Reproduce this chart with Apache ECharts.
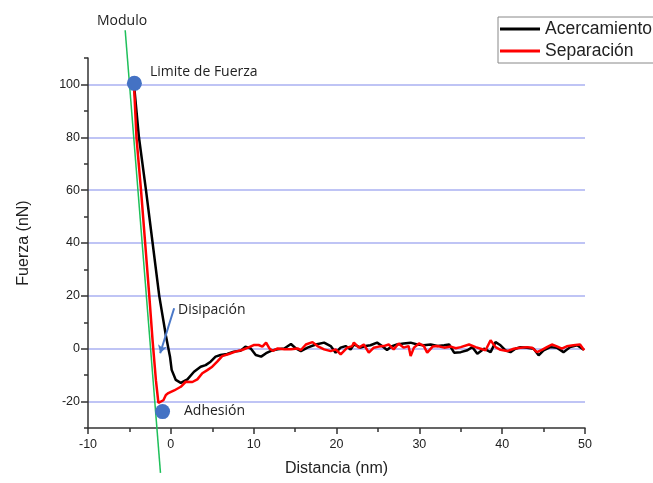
<!DOCTYPE html>
<html>
<head>
<meta charset="utf-8">
<script src="https://cdn.jsdelivr.net/npm/echarts@6/dist/echarts.min.js"></script>
<style>html,body{margin:0;padding:0;background:#fff}#c{width:653px;height:483px}</style>
</head>
<body>
<div id="c"></div>
<script>
// ---- data ----
const xTicks = [-10, 0, 10, 20, 30, 40, 50];
const yMajor = [-20, 0, 20, 40, 60, 80, 100];
const acercamiento = [
  [-4.45,100],[-3.85,80],[-3.0,60],[-2.2,40],[-1.4,20],[-0.6,5],[-0.1,-3],[0.1,-8],[0.6,-11.8],[1.2,-12.9],
  [2.0,-11.6],[2.8,-8.7],[3.6,-6.8],[4.2,-6.2],[4.8,-4.9],[5.4,-3],[6.0,-2.4],[6.8,-2],[7.6,-1.1],[8.4,-0.8],
  [9.0,0.8],[9.65,0.1],[10.25,-2.4],[10.9,-3],[11.5,-1.7],[12.1,-0.8],[12.9,-0.2],[13.7,0.1],[14.5,1.8],[15.1,0.1],
  [15.7,-0.9],[16.5,0.4],[17.5,1.6],[18.5,2.3],[19.3,1.0],[19.9,-1.5],[20.5,0.4],[21.1,1.0],[21.7,-0.3],[22.1,1.6],
  [22.9,0.4],[23.5,1.0],[24.1,1.3],[24.9,2.3],[25.5,1.0],[26.1,-0.5],[26.7,1.0],[27.3,1.6],[28.1,2.0],[28.95,2.3],
  [29.75,1.6],[30.55,1.3],[31.36,1.6],[32.2,1.0],[33.0,1.3],[33.6,1.6],[34.2,-1.5],[35.0,-1.3],[35.8,-0.6],[36.4,0.6],
  [37.0,-1.9],[37.8,0],[38.6,-1.3],[39.2,2.5],[39.8,1.3],[40.4,-0.6],[41.0,-1.3],[41.6,0],[42.2,0.6],[43.0,0.4],
  [43.8,0],[44.4,-2.5],[45.0,-0.6],[45.8,0.6],[46.6,0.4],[47.4,-1.3],[48.2,0.6],[49.05,1.3],[49.85,-0.4]
];
const separacion = [
  [-4.45,100],[-4.15,80],[-3.6,60],[-3.1,40],[-2.6,20],[-2.2,3],[-1.8,-12],[-1.5,-20.5],[-0.9,-19.5],[-0.6,-17.5],
  [-0.3,-16.8],[0.4,-15.8],[1.2,-14.4],[1.8,-12.5],[2.6,-12.6],[3.2,-11.6],[3.8,-9.3],[4.4,-8.1],[5.0,-6.8],[5.6,-4.9],
  [6.2,-2.8],[7.0,-2],[7.8,-1.1],[8.6,-0.5],[9.4,0.5],[10.0,1.4],[10.6,1.4],[11.05,0.8],[11.5,2.3],[11.9,0.1],
  [12.3,-0.8],[12.9,0.1],[13.7,-0.2],[14.5,-0.2],[15.3,0.1],[15.7,-0.5],[16.3,1.6],[17.1,2.5],[17.7,1.0],[18.5,-0.25],
  [19.3,-0.9],[19.9,-0.25],[20.5,-2.1],[21.3,0.4],[21.9,1.0],[22.1,2.3],[22.7,0.4],[23.3,1.6],[23.9,-1.5],[24.5,0.4],
  [25.1,0.8],[25.7,1.0],[26.3,1.6],[26.9,-0.25],[27.5,2.0],[28.1,0.4],[28.7,1.0],[28.95,-2.8],[29.35,0.4],[29.95,2.0],
  [30.55,1.0],[30.95,-1.5],[31.6,0.8],[32.2,1.0],[33.0,0.4],[33.8,0.8],[34.4,0.2],[35.0,0.6],[36.0,1.6],[36.8,0.6],
  [37.4,0],[38.0,-0.6],[38.6,3.2],[39.2,0.6],[39.8,-0.4],[40.6,-0.9],[41.4,0],[42.2,0.4],[43.0,0.6],[43.6,0.4],
  [44.2,-1.3],[44.8,-0.4],[45.4,0.6],[46.0,1.6],[46.6,0.9],[47.2,0],[47.8,0.9],[48.6,1.3],[49.4,1.6],[49.9,-0.6]
];
const modulo = [[-5.51,120.5],[-1.25,-47]];
const puntos = [[-4.4,100.4],[-1.0,-23.8]];
const disipacion = [[0.4,15.3],[-1.29,-1.7]];

const chart = echarts.init(document.getElementById('c'));
const txt = (t, x, y, size) => ({type:'text', left:x, top:y, style:{text:t, font:(size||14)+'px "Open Sans", sans-serif', fill:'#222'}});
chart.setOption({
  animation:false,
  grid:{left:88, right:68, top:58, bottom:55},
  legend:{
    orient:'vertical', left:498, top:17, padding:[3,12,3,2], itemGap:4,
    itemWidth:40, itemHeight:3, icon:'rect', borderColor:'#888', borderWidth:1,
    textStyle:{fontFamily:'Liberation Sans, Arial', fontSize:17.5, color:'#222', lineHeight:17},
    data:['Acercamiento','Separación']
  },
  xAxis:{
    type:'value', min:-10, max:50, interval:10,
    name:'Distancia (nm)', nameLocation:'middle', nameGap:33,
    nameTextStyle:{fontFamily:'Liberation Sans, Arial', fontSize:16, color:'#222'},
    axisLine:{onZero:false, lineStyle:{color:'#333', width:1.5}},
    axisTick:{length:6, lineStyle:{color:'#333', width:1.5}},
    minorTick:{show:true, splitNumber:2, length:4, lineStyle:{color:'#333', width:1.5}},
    axisLabel:{fontFamily:'Liberation Sans, Arial', fontSize:12.5, color:'#222', margin:10},
    splitLine:{show:false}
  },
  yAxis:[{
    type:'value', min:-30, max:110, interval:10,
    name:'Fuerza (nN)', nameLocation:'middle', nameGap:56,
    nameTextStyle:{fontFamily:'Liberation Sans, Arial', fontSize:16, color:'#222'},
    axisLine:{show:true, onZero:false, lineStyle:{color:'#333', width:1.5}},
    axisTick:{customValues:yMajor, length:7, lineStyle:{color:'#333', width:1.5}},
    axisLabel:{customValues:yMajor, fontFamily:'Liberation Sans, Arial', fontSize:12.5, color:'#222', margin:8},
    splitLine:{show:true, lineStyle:{color:'#aab0f2', width:1.5}}
  },{
    type:'value', min:-30, max:110, interval:10, position:'left',
    axisLine:{show:false, onZero:false}, axisLabel:{show:false}, splitLine:{show:false},
    axisTick:{show:true, length:4, lineStyle:{color:'#333', width:1.5}}
  }],
  series:[
    {name:'Acercamiento', type:'line', data:acercamiento, symbol:'none', lineStyle:{color:'#000', width:2.5}, itemStyle:{color:'#000'}, z:2},
    {name:'Separación', type:'line', data:separacion, symbol:'none', lineStyle:{color:'#ff0000', width:2.5}, itemStyle:{color:'#ff0000'}, z:3},
    {name:'Modulo', type:'line', data:modulo, symbol:'none', clip:false, lineStyle:{color:'#1ec05a', width:1.5}, z:4},
    {name:'Disipacion', type:'line', data:disipacion, symbol:'none', lineStyle:{width:0},
      markLine:{silent:true, symbol:['none','arrow'], symbolSize:[7,8], label:{show:false},
        lineStyle:{color:'#4a78c8', width:2, type:'solid'},
        data:[[{coord:disipacion[0]},{coord:disipacion[1]}]]}, z:5},
    {name:'Puntos', type:'scatter', data:puntos, symbolSize:15, clip:false, itemStyle:{color:'#4472c4', opacity:1}, z:6}
  ],
  graphic:[
    txt('Modulo', 97, 14),
    txt('Limite de Fuerza', 150, 65),
    txt('Disipación', 178, 303),
    txt('Adhesión', 184, 404)
  ]
});
</script>
</body>
</html>
